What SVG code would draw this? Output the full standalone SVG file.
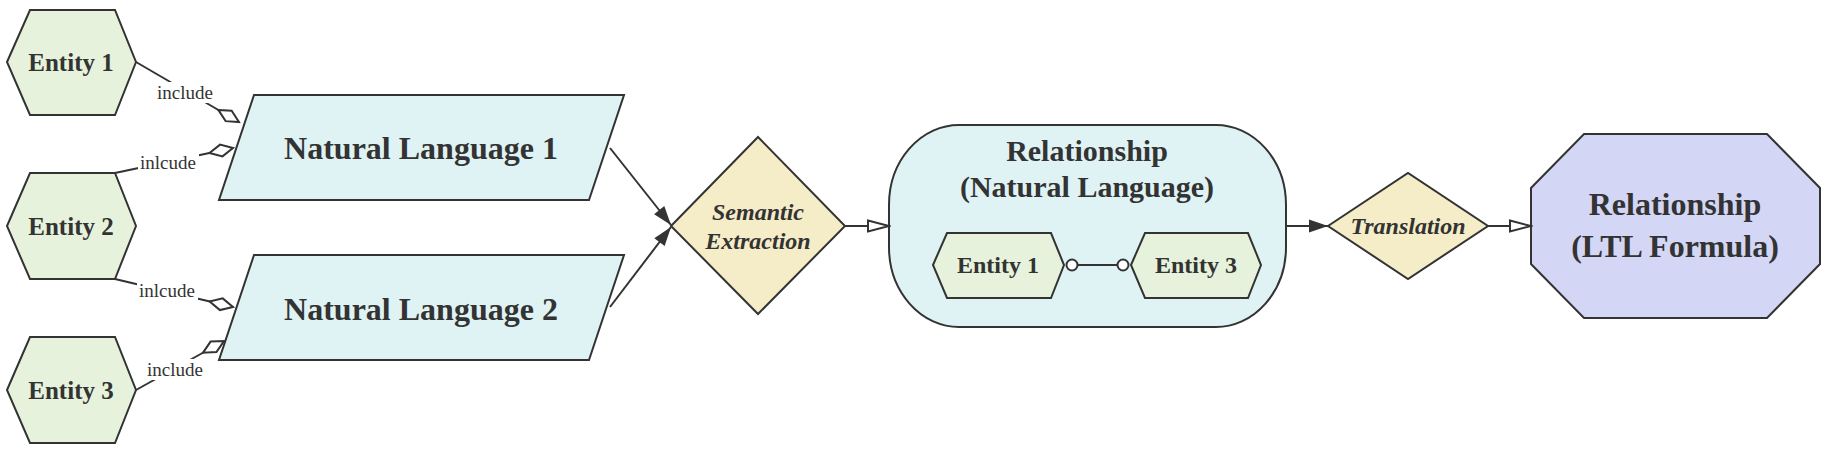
<svg xmlns="http://www.w3.org/2000/svg" width="1830" height="451" viewBox="0 0 1830 451">
<style>
.ent{fill:#e6f2db;stroke:#333;stroke-width:2}
.nl{fill:#dff3f5;stroke:#333;stroke-width:2}
.dia{fill:#f5edc8;stroke:#333;stroke-width:2}
.oct{fill:#d4d6f6;stroke:#333;stroke-width:2}
.t{font-family:"Liberation Serif","Times New Roman",serif;font-weight:bold;fill:#333;text-anchor:middle}
.ti{font-family:"Liberation Serif","Times New Roman",serif;font-weight:bold;font-style:italic;fill:#333;text-anchor:middle}
.lbl{font-family:"Liberation Serif","Times New Roman",serif;font-size:19px;fill:#333;text-anchor:middle}
.e{stroke:#333;stroke-width:2;fill:none}
.bg{fill:#fff}
</style>
<defs>
<marker id="odia" markerUnits="userSpaceOnUse" viewBox="-2 -8 28 16" markerWidth="28" markerHeight="16" refX="24" refY="0" orient="auto">
<path d="M0,0 L12,-6 L24,0 L12,6 Z" fill="#fff" stroke="#333" stroke-width="2"/>
</marker>
<marker id="farr" markerUnits="userSpaceOnUse" viewBox="-1 -8 21 16" markerWidth="21" markerHeight="16" refX="19" refY="0" orient="auto">
<path d="M0,-6.5 L19,0 L0,6.5 Z" fill="#333"/>
</marker>
<marker id="oarr" markerUnits="userSpaceOnUse" viewBox="-2 -8 25 16" markerWidth="25" markerHeight="16" refX="21" refY="0" orient="auto">
<path d="M0,-5.5 L21,0 L0,5.5 Z" fill="#fff" stroke="#333" stroke-width="2"/>
</marker>
<marker id="circ" markerUnits="userSpaceOnUse" viewBox="-8 -8 16 16" markerWidth="16" markerHeight="16" refX="0" refY="0" orient="auto">
<circle cx="0" cy="0" r="5.5" fill="#fff" stroke="#333" stroke-width="2"/>
</marker>
</defs>

<g id="n-entity1">
<polygon class="ent" points="7,62 30,10 115,10 136,62 115,115 30,115"/>
<text class="t" x="71" y="71" font-size="25">Entity 1</text>
</g>
<g id="n-entity2">
<polygon class="ent" points="7,226 30,173 115,173 136,226 115,279 30,279"/>
<text class="t" x="71" y="235" font-size="25">Entity 2</text>
</g>
<g id="n-entity3">
<polygon class="ent" points="7,390 30,337 115,337 136,390 115,443 30,443"/>
<text class="t" x="71" y="399" font-size="25">Entity 3</text>
</g>
<g id="n-nl1">
<polygon class="nl" points="254,95 624,95 589,200 219,200"/>
<text class="t" x="421" y="159" font-size="32">Natural Language 1</text>
</g>
<g id="n-nl2">
<polygon class="nl" points="254,255 624,255 589,360 219,360"/>
<text class="t" x="421" y="320" font-size="32">Natural Language 2</text>
</g>
<g id="n-semantic">
<polygon class="dia" points="671,226 758,137 845,226 758,314"/>
<text class="ti" x="758" y="220" font-size="24">Semantic</text>
<text class="ti" x="758" y="249" font-size="24">Extraction</text>
</g>
<g id="n-relnl">
<rect class="nl" x="889" y="125" width="397" height="202" rx="70" ry="80"/>
<text class="t" x="1087" y="161" font-size="30">Relationship</text>
<text class="t" x="1087" y="197" font-size="30">(Natural Language)</text>
</g>
<g id="n-inner-entity1">
<polygon class="ent" points="933,265 947,233 1051,233 1064,265 1051,298 947,298"/>
<text class="t" x="998" y="273" font-size="24">Entity 1</text>
</g>
<g id="n-inner-entity3">
<polygon class="ent" points="1131,265 1145,233 1248,233 1261,265 1248,298 1145,298"/>
<text class="t" x="1196" y="273" font-size="24">Entity 3</text>
</g>
<g id="n-translation">
<polygon class="dia" points="1328,226 1408,173 1488,226 1408,279"/>
<text class="ti" x="1408" y="234" font-size="24">Translation</text>
</g>
<g id="n-ltl">
<polygon class="oct" points="1584,134 1767,134 1820,188 1820,264 1767,318 1584,318 1531,264 1531,188"/>
<text class="t" x="1675" y="215" font-size="32">Relationship</text>
<text class="t" x="1675" y="257" font-size="32">(LTL Formula)</text>
</g>

<g id="connectors">
<line class="e" x1="136" y1="62" x2="239" y2="122" marker-end="url(#odia)"/>
<rect class="bg" x="155" y="82" width="61" height="21"/>
<text class="lbl" x="185" y="99">include</text>

<line class="e" x1="115" y1="173" x2="233" y2="148" marker-end="url(#odia)"/>
<rect class="bg" x="138" y="152" width="61" height="21"/>
<text class="lbl" x="168" y="169">inlcude</text>

<line class="e" x1="115" y1="279" x2="233" y2="307" marker-end="url(#odia)"/>
<rect class="bg" x="137" y="280" width="61" height="21"/>
<text class="lbl" x="167" y="297">inlcude</text>

<line class="e" x1="136" y1="390" x2="224" y2="341" marker-end="url(#odia)"/>
<rect class="bg" x="145" y="359" width="61" height="21"/>
<text class="lbl" x="175" y="376">include</text>

<line class="e" x1="610" y1="148" x2="671" y2="225" marker-end="url(#farr)"/>
<line class="e" x1="610" y1="307" x2="671" y2="227" marker-end="url(#farr)"/>
<line class="e" x1="845" y1="226" x2="889" y2="226" marker-end="url(#oarr)"/>
<line class="e" x1="1286" y1="226" x2="1328" y2="226" marker-end="url(#farr)"/>
<line class="e" x1="1488" y1="226" x2="1531" y2="226" marker-end="url(#oarr)"/>
<line class="e" x1="1072" y1="265" x2="1123" y2="265" marker-start="url(#circ)" marker-end="url(#circ)"/>
</g>
</svg>
